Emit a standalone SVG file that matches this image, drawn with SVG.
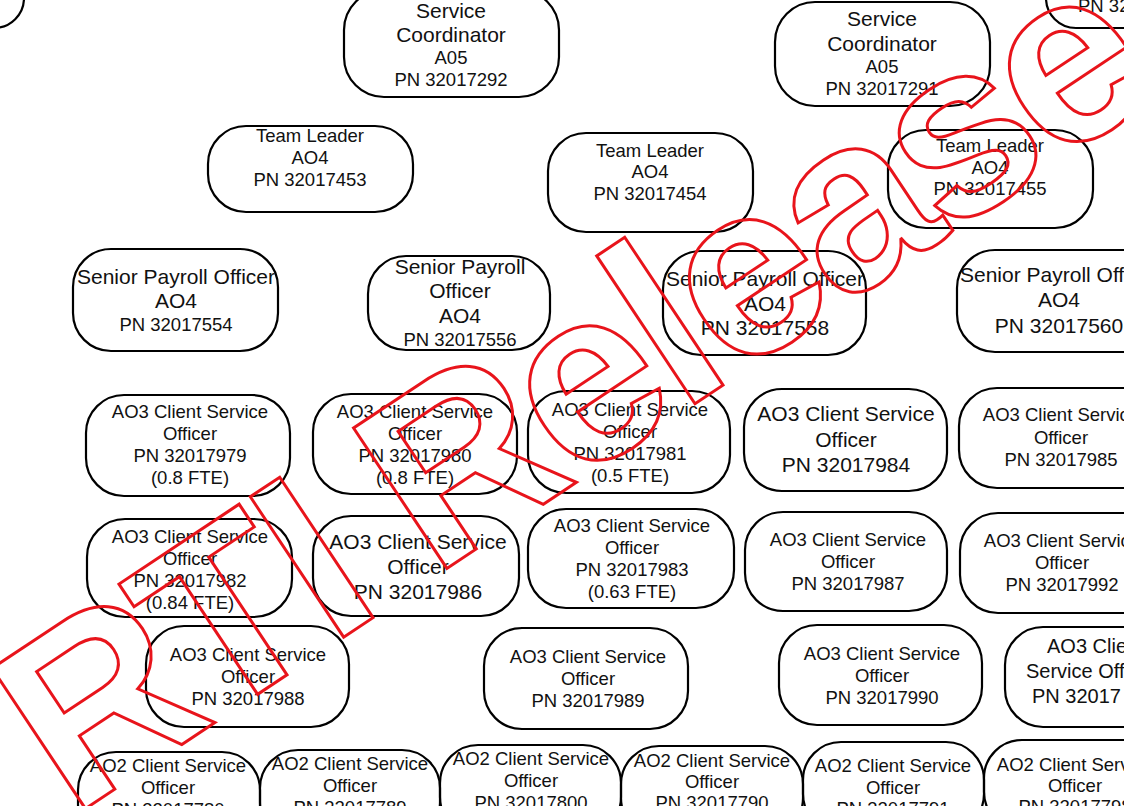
<svg xmlns="http://www.w3.org/2000/svg" width="1124" height="806" viewBox="0 0 1124 806">
  <style>
    .box { fill: none; stroke: #000; stroke-width: 2.2; }
    .t { font-family: "Liberation Sans", Arial, sans-serif; font-size: 18.5px; fill: #111; text-anchor: middle; dominant-baseline: central; }
    .l { font-size: 21px; }
    .m { font-size: 20px; }
    .s { text-anchor: start; }
    .wm { font-family: "Liberation Sans", Arial, sans-serif; font-weight: bold; font-size: 245px; fill: none; stroke: #e8141b; stroke-width: 3; stroke-linejoin: miter; }
  </style>
  <rect width="1124" height="806" fill="#fff"/>

  <!-- partial nodes at the top corners -->
  <g id="node-top-left">
    <path class="box" d="M-6,28 A30,30 0 0 0 24,-2"/>
  </g>
  <g id="node-top-right">
    <rect class="box" x="1046" y="-40" width="130" height="68" rx="30"/>
    <text class="t s" x="1078" y="5">PN 32</text>
  </g>

  <!-- service coordinators -->
  <g id="node-sc-32017292">
    <rect class="box" x="344" y="-10" width="215" height="107" rx="40"/>
    <text class="t l" x="451" y="10">Service</text>
    <text class="t l" x="451" y="34">Coordinator</text>
    <text class="t" x="451" y="57">A05</text>
    <text class="t" x="451" y="79">PN 32017292</text>
  </g>
  <g id="node-sc-32017291">
    <rect class="box" x="775" y="2" width="215" height="104" rx="40"/>
    <text class="t l" x="882" y="18">Service</text>
    <text class="t l" x="882" y="43">Coordinator</text>
    <text class="t" x="882" y="66">A05</text>
    <text class="t" x="882" y="88">PN 32017291</text>
  </g>

  <!-- team leaders -->
  <g id="node-tl-32017453">
    <rect class="box" x="208" y="126" width="205" height="86" rx="38"/>
    <text class="t" x="310" y="135">Team Leader</text>
    <text class="t" x="310" y="157">AO4</text>
    <text class="t" x="310" y="179">PN 32017453</text>
  </g>
  <g id="node-tl-32017454">
    <rect class="box" x="548" y="133" width="205" height="99" rx="38"/>
    <text class="t" x="650" y="150">Team Leader</text>
    <text class="t" x="650" y="171">AO4</text>
    <text class="t" x="650" y="193">PN 32017454</text>
  </g>
  <g id="node-tl-32017455">
    <rect class="box" x="888" y="130" width="205" height="98" rx="38"/>
    <text class="t" x="990" y="145">Team Leader</text>
    <text class="t" x="990" y="167">AO4</text>
    <text class="t" x="990" y="188">PN 32017455</text>
  </g>

  <!-- senior payroll officers -->
  <g id="node-spo-32017554">
    <rect class="box" x="73" y="249" width="205" height="102" rx="38"/>
    <text class="t l" x="176" y="276">Senior Payroll Officer</text>
    <text class="t l" x="176" y="300">AO4</text>
    <text class="t" x="176" y="324">PN 32017554</text>
  </g>
  <g id="node-spo-32017556">
    <rect class="box" x="368" y="256" width="182" height="94" rx="38"/>
    <text class="t l" x="460" y="266">Senior Payroll</text>
    <text class="t l" x="460" y="290">Officer</text>
    <text class="t l" x="460" y="315">AO4</text>
    <text class="t" x="460" y="339">PN 32017556</text>
  </g>
  <g id="node-spo-32017558">
    <rect class="box" x="663" y="251" width="203" height="104" rx="38"/>
    <text class="t l" x="765" y="278">Senior Payroll Officer</text>
    <text class="t l" x="765" y="303">AO4</text>
    <text class="t l" x="765" y="327">PN 32017558</text>
  </g>
  <g id="node-spo-32017560">
    <rect class="box" x="957" y="250" width="204" height="102" rx="38"/>
    <text class="t l" x="1059" y="274">Senior Payroll Officer</text>
    <text class="t l" x="1059" y="299">AO4</text>
    <text class="t l" x="1059" y="325">PN 32017560</text>
  </g>

  <!-- AO3 client service officers, first row -->
  <g id="node-cso-32017979">
    <rect class="box" x="86" y="395" width="204" height="101" rx="38"/>
    <text class="t" x="190" y="411">AO3 Client Service</text>
    <text class="t" x="190" y="433">Officer</text>
    <text class="t" x="190" y="455">PN 32017979</text>
    <text class="t" x="190" y="477">(0.8 FTE)</text>
  </g>
  <g id="node-cso-32017980">
    <rect class="box" x="313" y="394" width="204" height="100" rx="38"/>
    <text class="t" x="415" y="411">AO3 Client Service</text>
    <text class="t" x="415" y="433">Officer</text>
    <text class="t" x="415" y="455">PN 32017980</text>
    <text class="t" x="415" y="477">(0.8 FTE)</text>
  </g>
  <g id="node-cso-32017981">
    <rect class="box" x="528" y="391" width="202" height="102" rx="38"/>
    <text class="t" x="630" y="409">AO3 Client Service</text>
    <text class="t" x="630" y="431">Officer</text>
    <text class="t" x="630" y="453">PN 32017981</text>
    <text class="t" x="630" y="475">(0.5 FTE)</text>
  </g>
  <g id="node-cso-32017984">
    <rect class="box" x="744" y="389" width="203" height="102" rx="38"/>
    <text class="t l" x="846" y="413">AO3 Client Service</text>
    <text class="t l" x="846" y="439">Officer</text>
    <text class="t l" x="846" y="464">PN 32017984</text>
  </g>
  <g id="node-cso-32017985">
    <rect class="box" x="959" y="388" width="204" height="100" rx="38"/>
    <text class="t" x="1061" y="414">AO3 Client Service</text>
    <text class="t" x="1061" y="437">Officer</text>
    <text class="t" x="1061" y="459">PN 32017985</text>
  </g>

  <!-- AO3 client service officers, second row -->
  <g id="node-cso-32017982">
    <rect class="box" x="87" y="519" width="205" height="98" rx="38"/>
    <text class="t" x="190" y="536">AO3 Client Service</text>
    <text class="t" x="190" y="558">Officer</text>
    <text class="t" x="190" y="580">PN 32017982</text>
    <text class="t" x="190" y="602">(0.84 FTE)</text>
  </g>
  <g id="node-cso-32017986">
    <rect class="box" x="313" y="516" width="206" height="100" rx="38"/>
    <text class="t l" x="418" y="541">AO3 Client Service</text>
    <text class="t l" x="418" y="566">Officer</text>
    <text class="t l" x="418" y="591">PN 32017986</text>
  </g>
  <g id="node-cso-32017983">
    <rect class="box" x="528" y="509" width="206" height="99" rx="38"/>
    <text class="t" x="632" y="525">AO3 Client Service</text>
    <text class="t" x="632" y="547">Officer</text>
    <text class="t" x="632" y="569">PN 32017983</text>
    <text class="t" x="632" y="591">(0.63 FTE)</text>
  </g>
  <g id="node-cso-32017987">
    <rect class="box" x="745" y="512" width="202" height="99" rx="38"/>
    <text class="t" x="848" y="539">AO3 Client Service</text>
    <text class="t" x="848" y="561">Officer</text>
    <text class="t" x="848" y="583">PN 32017987</text>
  </g>
  <g id="node-cso-32017992">
    <rect class="box" x="960" y="513" width="204" height="100" rx="38"/>
    <text class="t" x="1062" y="540">AO3 Client Service</text>
    <text class="t" x="1062" y="562">Officer</text>
    <text class="t" x="1062" y="584">PN 32017992</text>
  </g>

  <!-- AO3 client service officers, third row -->
  <g id="node-cso-32017988">
    <rect class="box" x="146" y="626" width="203" height="101" rx="38"/>
    <text class="t" x="248" y="654">AO3 Client Service</text>
    <text class="t" x="248" y="676">Officer</text>
    <text class="t" x="248" y="698">PN 32017988</text>
  </g>
  <g id="node-cso-32017989">
    <rect class="box" x="484" y="628" width="204" height="101" rx="38"/>
    <text class="t" x="588" y="656">AO3 Client Service</text>
    <text class="t" x="588" y="678">Officer</text>
    <text class="t" x="588" y="700">PN 32017989</text>
  </g>
  <g id="node-cso-32017990">
    <rect class="box" x="779" y="625" width="203" height="100" rx="38"/>
    <text class="t" x="882" y="653">AO3 Client Service</text>
    <text class="t" x="882" y="675">Officer</text>
    <text class="t" x="882" y="697">PN 32017990</text>
  </g>
  <g id="node-cso-right">
    <rect class="box" x="1005" y="627" width="200" height="100" rx="38"/>
    <text class="t m s" x="1047" y="646">AO3 Client</text>
    <text class="t m s" x="1026" y="671">Service Officer</text>
    <text class="t m s" x="1032" y="696">PN 32017</text>
  </g>

  <!-- AO2 client service officers, bottom row -->
  <g id="node-ao2-1">
    <rect class="box" x="78" y="752" width="182" height="90" rx="38"/>
    <text class="t" x="168" y="765">AO2 Client Service</text>
    <text class="t" x="168" y="787">Officer</text>
    <text class="t" x="168" y="809">PN 32017780</text>
  </g>
  <g id="node-ao2-2">
    <rect class="box" x="260" y="750" width="180" height="90" rx="38"/>
    <text class="t" x="350" y="763">AO2 Client Service</text>
    <text class="t" x="350" y="785">Officer</text>
    <text class="t" x="350" y="807">PN 32017789</text>
  </g>
  <g id="node-ao2-3">
    <rect class="box" x="440" y="745" width="181" height="90" rx="38"/>
    <text class="t" x="531" y="758">AO2 Client Service</text>
    <text class="t" x="531" y="780">Officer</text>
    <text class="t" x="531" y="802">PN 32017800</text>
  </g>
  <g id="node-ao2-4">
    <rect class="box" x="621" y="746" width="182" height="90" rx="38"/>
    <text class="t" x="712" y="760">AO2 Client Service</text>
    <text class="t" x="712" y="781">Officer</text>
    <text class="t" x="712" y="802">PN 32017790</text>
  </g>
  <g id="node-ao2-5">
    <rect class="box" x="803" y="742" width="181" height="90" rx="38"/>
    <text class="t" x="893" y="765">AO2 Client Service</text>
    <text class="t" x="893" y="787">Officer</text>
    <text class="t" x="893" y="808">PN 32017791</text>
  </g>
  <g id="node-ao2-6">
    <rect class="box" x="984" y="740" width="182" height="90" rx="38"/>
    <text class="t" x="1075" y="764">AO2 Client Service</text>
    <text class="t" x="1075" y="785">Officer</text>
    <text class="t" x="1075" y="806">PN 32017798</text>
  </g>

  <!-- no connectors are drawn on this sheet -->
  <g id="connectors"/>

  <!-- release stamp, outlined letters set along a rising line -->
  <text class="wm" transform="translate(76,815) rotate(-33.6)" x="-5 161 305 400 429 596 726 788 916 1044 1172" y="0">RTI Release</text>
</svg>
